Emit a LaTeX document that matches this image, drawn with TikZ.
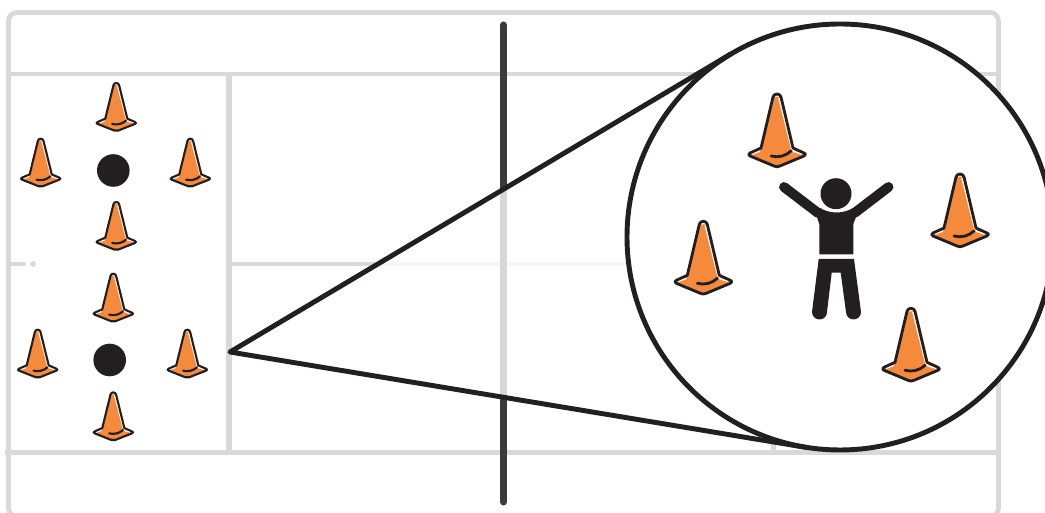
\documentclass[tikz,border=0pt]{standalone}
\usepackage{tikz}
\usetikzlibrary{calc}
\definecolor{CourtGray}{RGB}{217, 217, 217}
\definecolor{NetDark}{RGB}{58, 58, 58}
\definecolor{InkBlack}{RGB}{35, 31, 32}
\definecolor{ConeOrange}{RGB}{245, 138, 60}
\tikzset{
  courtline/.style={draw=CourtGray, line width=1.35pt},
  zoomline/.style={draw=InkBlack, line width=1.4pt},
  pics/cone/.style={code={
    \fill[ConeOrange] (-3.5,-58) -- (3.5,-58) -- (16,-7) -- (28,-1) -- (0,12) -- (-29,-1) -- (-16,-7) -- cycle;
    \draw[white, line width=0.45pt] (2,-57) -- (14.5,-7) -- (17,-3.5) -- (25,-1);
    \draw[white, line width=0.45pt] (-25,-1) -- (-17,-4);
    \draw[InkBlack, line join=round, line cap=round] (-4,-58) .. controls (-3,-62) and (3,-62) .. (4,-58) -- (16,-7) -- (27,-2) .. controls (29,-1) and (29,0) .. (27,1) -- (3,11) .. controls (1,12) and (-1,12) .. (-3,11) -- (-27,1) .. controls (-29,0) and (-29,-1) .. (-27,-2) -- (-16,-7) -- cycle;
    \draw[InkBlack, line cap=round] (-6,1) .. controls (1,3) and (9,1) .. (14,-4);
  }},
  bigcone/.style={line width=0.8pt},
  smallcone/.style={xscale=0.69, yscale=0.66, line width=0.6pt},
}
\begin{document}
\begin{tikzpicture}[x=0.01cm, y=-0.01cm]
    \useasboundingbox (0,0) rectangle (1045,513);
    \clip (0,0) rectangle (1045,513);

    % Cancha
    \draw[courtline, rounded corners=2.4pt] (8.5,12.5) rectangle (998.5,516.5);
    \draw[courtline] (8.5,74) -- (998.5,74);
    \draw[courtline] (5,452.5) -- (998.5,452.5);
    \draw[courtline, line width=1.65pt] (229,74) -- (229,452.5);
    \draw[courtline] (229,264) -- (773.5,264);
    \draw[courtline] (773.5,264) -- (773.5,452.5);
    \draw[courtline, line cap=round] (9,264) -- (24,264);
    \fill[CourtGray] (33,264) circle (3);

    % Red
    \draw[NetDark, line width=2pt, line cap=round] (503.5,25) -- (503.5,502);

    % Conos y puntos
    \fill[InkBlack] (113.3,170.5) circle (16.3);
    \fill[InkBlack] (109.7,360) circle (16.3);
    \pic[smallcone] at (116.3,123.3) {cone};
    \pic[smallcone] at (40.7,179) {cone};
    \pic[smallcone] at (190.3,179) {cone};
    \pic[smallcone] at (116.3,242.3) {cone};
    \pic[smallcone] at (113.3,314) {cone};
    \pic[smallcone] at (37.7,370) {cone};
    \pic[smallcone] at (187.3,370) {cone};
    \pic[smallcone] at (113.3,432.7) {cone};

    % Zoom
    \coordinate (apex) at (230,352);
    \node[circle, minimum size=4.26cm, inner sep=0pt, outer sep=0pt] (zoomcircle) at (840,237) {};
    \coordinate (upper) at (tangent cs:node=zoomcircle,point={(apex)},solution=1);
    \coordinate (lower) at (tangent cs:node=zoomcircle,point={(apex)},solution=2);
    \fill[white, opacity=0.8] (apex) -- (upper) -- (zoomcircle.center) -- (lower) -- cycle;
    \draw[zoomline, fill=white] (zoomcircle.center) circle (213);
    \draw[zoomline, line cap=round, line join=round] (upper) -- (apex) -- (lower);

    % Conos grandes
    \pic[bigcone] at (777,155) {cone};
    \pic[bigcone] at (703.3,282.3) {cone};
    \pic[bigcone] at (960,235) {cone};
    \pic[bigcone] at (911,369.3) {cone};

    % Persona
    \fill[InkBlack] (836,193.7) circle (15.5);
    \draw[InkBlack, line width=2.8pt, line cap=round] (784,187) -- (818,213);
    \draw[InkBlack, line width=2.8pt, line cap=round] (888.5,187) -- (854.5,213);
    \fill[InkBlack] (819.3,254.3) -- (819.3,224) -- (815,212) -- (820,208) .. controls (830,214) and (843,214) .. (853,208) -- (858,212) -- (853.3,224) -- (853.3,254.3) -- cycle;
    \fill[InkBlack] (818.7,259) -- (854,259) -- (861,312) arc (0:180:7.5) -- (840.7,272.7) -- (831.7,272.7) -- (827,312) arc (0:180:7.5) -- cycle;
\end{tikzpicture}
\end{document}
